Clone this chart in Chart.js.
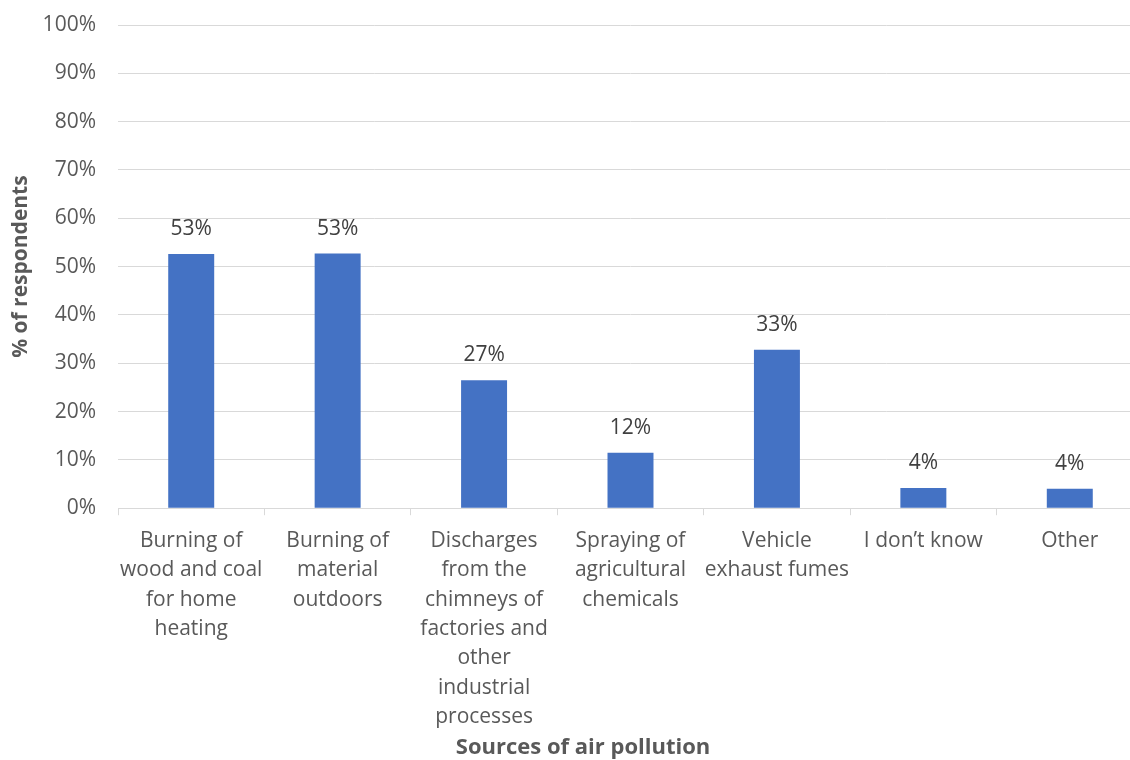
<!DOCTYPE html>
<html>
<head>
  <meta charset="utf-8" />
  <title>Sources of air pollution</title>
  <script src="https://cdn.jsdelivr.net/npm/chart.js"></script>
  <style>
    body, html { margin: 0; padding: 0; background-color: #FFFFFF; overflow: hidden; }
    #wrap { width: 1166px; height: 760px; position: relative; }
  </style>
</head>
<body>
  <div id="wrap"><canvas id="myChart"></canvas></div>
  <script>
    const categories = [
      ["Burning of", "wood and coal", "for home", "heating"],
      ["Burning of", "material", "outdoors"],
      ["Discharges", "from the", "chimneys of", "factories and", "other", "industrial", "processes"],
      ["Spraying of", "agricultural", "chemicals"],
      ["Vehicle", "exhaust fumes"],
      ["I don’t know"],
      ["Other"]
    ];
    const respondents = [52.6, 52.7, 26.5, 11.5, 32.8, 4.2, 4.0];
    const yTicks = [0, 10, 20, 30, 40, 50, 60, 70, 80, 90, 100];

    const FONT = "'Open Sans', sans-serif";

    // value labels above each bar
    const barLabels = {
      id: 'barLabels',
      afterDatasetsDraw(chart) {
        const ctx = chart.ctx;
        const meta = chart.getDatasetMeta(0);
        ctx.save();
        ctx.font = '21px ' + FONT;
        ctx.fillStyle = '#404040';
        ctx.textAlign = 'center';
        ctx.textBaseline = 'middle';
        meta.data.forEach((bar, i) => {
          ctx.fillText(Math.round(respondents[i]) + '%', bar.x, bar.y - 25);
        });
        ctx.restore();
      }
    };

    // x axis title, centred on the whole chart box
    const xTitle = {
      id: 'xTitle',
      afterDraw(chart) {
        const ctx = chart.ctx;
        ctx.save();
        ctx.font = 'bold 22px ' + FONT;
        ctx.fillStyle = '#595959';
        ctx.textAlign = 'center';
        ctx.textBaseline = 'middle';
        ctx.fillText('Sources of air pollution', chart.width / 2, chart.height - 12);
        ctx.restore();
      }
    };

    const ctx = document.getElementById('myChart').getContext('2d');
    new Chart(ctx, {
      type: 'bar',
      data: {
        labels: categories,
        datasets: [{
          label: '% of respondents',
          data: respondents,
          backgroundColor: '#4472C4',
          borderWidth: 0,
          categoryPercentage: 1,
          barPercentage: 0.314
        }]
      },
      options: {
        responsive: true,
        maintainAspectRatio: false,
        animation: false,
        layout: { padding: { left: 6, right: 23, top: 25, bottom: 17 } },
        plugins: {
          legend: { display: false },
          tooltip: { enabled: false }
        },
        scales: {
          y: {
            min: 0,
            max: 100,
            afterBuildTicks(scale) {
              scale.ticks = yTicks.map(v => ({ value: v }));
            },
            afterFit(scale) {
              scale.width = 112;
              scale.paddingTop = 0;
              scale.paddingBottom = 0;
            },
            grid: { color: '#D9D9D9', lineWidth: 1, drawTicks: false },
            border: { display: false },
            ticks: {
              color: '#595959',
              padding: 22,
              font: { family: FONT, size: 21 },
              callback: v => v + '%'
            },
            title: {
              display: true,
              text: '% of respondents',
              color: '#595959',
              padding: { top: 2, bottom: 8 },
              font: { family: FONT, size: 21, weight: 'bold' }
            }
          },
          x: {
            grid: {
              offset: true,
              drawOnChartArea: false,
              drawTicks: true,
              tickLength: 7,
              color: '#D9D9D9'
            },
            border: { display: true, color: '#D9D9D9', width: 1 },
            ticks: {
              color: '#595959',
              autoSkip: false,
              maxRotation: 0,
              padding: 11,
              font: { family: FONT, size: 21, lineHeight: 1.4 }
            }
          }
        }
      },
      plugins: [barLabels, xTitle]
    });
  </script>
</body>
</html>
